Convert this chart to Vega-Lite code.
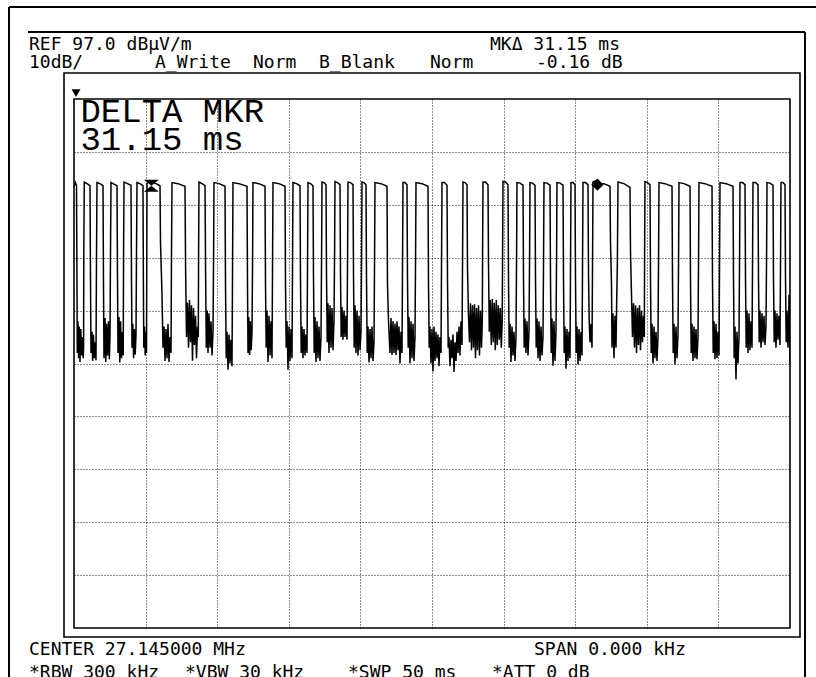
{
"$schema":"https://vega.github.io/schema/vega-lite/v6.json",
"width":716,"height":529,
"autosize":{"type":"none"},
"padding":{"left":74,"top":99,"right":26,"bottom":49},
"background":"white",
"config":{"view":{"stroke":"black","strokeWidth":1.6}},
"datasets":{
"trace":[
{"t":0,"v":80.5},{"t":0.105,"v":81.2},{"t":0.175,"v":80.6},{"t":0.209,"v":62},{"t":0.23,"v":49},{"t":0.279,"v":55},{"t":0.321,"v":48},{"t":0.37,"v":54},{"t":0.419,"v":47.3},{"t":0.475,"v":53.5},{"t":0.531,"v":48.5},{"t":0.594,"v":52},{"t":0.642,"v":48},{"t":0.67,"v":50},{"t":0.684,"v":68},{"t":0.719,"v":81.3},
{"t":0.908,"v":81.0},{"t":1.117,"v":80.6},{"t":1.152,"v":63},{"t":1.187,"v":49},{"t":1.257,"v":53},{"t":1.299,"v":47.5},{"t":1.355,"v":52.5},{"t":1.411,"v":48},{"t":1.466,"v":51},{"t":1.536,"v":47.6},{"t":1.571,"v":67},{"t":1.606,"v":81.2},
{"t":1.816,"v":81.0},{"t":2.025,"v":80.6},{"t":2.06,"v":62},{"t":2.095,"v":48},{"t":2.165,"v":55.6},{"t":2.221,"v":47.3},{"t":2.277,"v":54.5},{"t":2.339,"v":48.5},{"t":2.409,"v":55},{"t":2.465,"v":47.8},{"t":2.514,"v":52},{"t":2.549,"v":68},{"t":2.584,"v":81.2},
{"t":2.793,"v":80.9},{"t":3.003,"v":80.6},{"t":3.038,"v":63},{"t":3.073,"v":49},{"t":3.142,"v":55.8},{"t":3.198,"v":47.2},{"t":3.254,"v":55},{"t":3.317,"v":48},{"t":3.387,"v":53},{"t":3.436,"v":48.5},{"t":3.464,"v":69},{"t":3.492,"v":81.3},
{"t":3.736,"v":81},{"t":3.98,"v":80.7},{"t":4.015,"v":63},{"t":4.05,"v":50},{"t":4.106,"v":54.5},{"t":4.162,"v":48},{"t":4.218,"v":53.5},{"t":4.274,"v":48.7},{"t":4.33,"v":52.5},{"t":4.365,"v":68},{"t":4.399,"v":81.2},
{"t":4.609,"v":81},{"t":4.818,"v":80.6},{"t":4.846,"v":62},{"t":4.874,"v":50},{"t":4.923,"v":54},{"t":4.972,"v":48.5},{"t":5.021,"v":53},{"t":5.063,"v":49},{"t":5.084,"v":68},{"t":5.098,"v":81},
{"t":5.237,"v":81.5},{"t":5.447,"v":81.3},{"t":5.726,"v":81.0},{"t":6.006,"v":80.6},{"t":6.04,"v":70},{"t":6.145,"v":60},{"t":6.215,"v":50},{"t":6.285,"v":54},{"t":6.355,"v":47.5},{"t":6.425,"v":53.5},{"t":6.494,"v":48},{"t":6.564,"v":54.5},{"t":6.634,"v":47.3},{"t":6.704,"v":52},{"t":6.774,"v":49},{"t":6.809,"v":68},{"t":6.844,"v":81.2},
{"t":7.263,"v":81},{"t":7.751,"v":80.5},{"t":7.793,"v":65},{"t":7.856,"v":52},{"t":7.926,"v":58.5},{"t":7.996,"v":50},{"t":8.066,"v":59},{"t":8.135,"v":51},{"t":8.205,"v":58},{"t":8.275,"v":47.5},{"t":8.345,"v":57.5},{"t":8.415,"v":50.5},{"t":8.485,"v":56},{"t":8.554,"v":48},{"t":8.624,"v":54},{"t":8.68,"v":52},{"t":8.701,"v":68},{"t":8.729,"v":81.3},
{"t":8.939,"v":81},{"t":9.148,"v":80.6},{"t":9.19,"v":64},{"t":9.239,"v":50},{"t":9.302,"v":57},{"t":9.358,"v":49},{"t":9.427,"v":56.5},{"t":9.497,"v":50},{"t":9.567,"v":55},{"t":9.637,"v":48.5},{"t":9.707,"v":53},{"t":9.749,"v":68},{"t":9.777,"v":81.2},
{"t":10.126,"v":81},{"t":10.545,"v":80.5},{"t":10.58,"v":62},{"t":10.629,"v":48},{"t":10.684,"v":53},{"t":10.754,"v":45.8},{"t":10.824,"v":52.5},{"t":10.894,"v":47},{"t":10.964,"v":51.5},{"t":11.034,"v":46.5},{"t":11.075,"v":67},{"t":11.103,"v":81.2},
{"t":11.522,"v":81},{"t":12.081,"v":80.5},{"t":12.116,"v":62},{"t":12.151,"v":49},{"t":12.207,"v":55.8},{"t":12.263,"v":48.6},{"t":12.318,"v":55},{"t":12.374,"v":49.5},{"t":12.43,"v":53},{"t":12.472,"v":67},{"t":12.5,"v":81.2},
{"t":12.919,"v":81},{"t":13.338,"v":80.5},{"t":13.373,"v":62},{"t":13.422,"v":50},{"t":13.478,"v":57},{"t":13.547,"v":47.3},{"t":13.617,"v":56},{"t":13.687,"v":48.5},{"t":13.757,"v":55},{"t":13.827,"v":48},{"t":13.869,"v":68},{"t":13.897,"v":81.2},
{"t":14.316,"v":81},{"t":14.735,"v":80.5},{"t":14.77,"v":62},{"t":14.818,"v":50},{"t":14.874,"v":55},{"t":14.944,"v":45.8},{"t":15.014,"v":54},{"t":15.084,"v":47.5},{"t":15.154,"v":53.5},{"t":15.223,"v":48},{"t":15.265,"v":68},{"t":15.293,"v":81.2},
{"t":15.538,"v":81},{"t":15.782,"v":80.6},{"t":15.817,"v":63},{"t":15.866,"v":49},{"t":15.922,"v":54},{"t":15.992,"v":48},{"t":16.061,"v":53.5},{"t":16.131,"v":48.5},{"t":16.201,"v":52.5},{"t":16.271,"v":49},{"t":16.313,"v":68},{"t":16.341,"v":81.2},
{"t":16.515,"v":81},{"t":16.69,"v":80.6},{"t":16.725,"v":63},{"t":16.774,"v":49},{"t":16.83,"v":55.8},{"t":16.899,"v":47.3},{"t":16.969,"v":55},{"t":17.039,"v":48},{"t":17.109,"v":54},{"t":17.179,"v":47.5},{"t":17.249,"v":52},{"t":17.291,"v":68},{"t":17.318,"v":81.3},
{"t":17.458,"v":81.2},{"t":17.598,"v":80.8},{"t":17.633,"v":64},{"t":17.682,"v":51},{"t":17.737,"v":58.4},{"t":17.807,"v":49},{"t":17.877,"v":58},{"t":17.947,"v":50},{"t":18.017,"v":57.5},{"t":18.087,"v":49.5},{"t":18.156,"v":55},{"t":18.198,"v":68},{"t":18.226,"v":81.4},
{"t":18.401,"v":81.2},{"t":18.575,"v":80.8},{"t":18.61,"v":64},{"t":18.659,"v":52},{"t":18.715,"v":57.7},{"t":18.785,"v":51.5},{"t":18.855,"v":57},{"t":18.925,"v":52},{"t":18.994,"v":56},{"t":19.064,"v":51.5},{"t":19.106,"v":68},{"t":19.134,"v":81.3},
{"t":19.309,"v":81.2},{"t":19.483,"v":80.8},{"t":19.518,"v":64},{"t":19.567,"v":50},{"t":19.623,"v":58},{"t":19.693,"v":49},{"t":19.763,"v":57},{"t":19.832,"v":48.5},{"t":19.902,"v":56},{"t":19.972,"v":49.5},{"t":20.042,"v":53},{"t":20.084,"v":68},{"t":20.112,"v":81.3},
{"t":20.251,"v":81.2},{"t":20.391,"v":80.8},{"t":20.426,"v":63},{"t":20.475,"v":49},{"t":20.531,"v":54},{"t":20.601,"v":47.2},{"t":20.67,"v":53.5},{"t":20.74,"v":48},{"t":20.81,"v":54},{"t":20.88,"v":47.5},{"t":20.95,"v":51},{"t":20.992,"v":68},{"t":21.019,"v":81.2},
{"t":21.438,"v":81},{"t":21.858,"v":80.5},{"t":21.892,"v":62},{"t":21.962,"v":55},{"t":22.067,"v":49},{"t":22.137,"v":55.6},{"t":22.207,"v":48.6},{"t":22.277,"v":55},{"t":22.346,"v":49},{"t":22.416,"v":54.5},{"t":22.486,"v":48.6},{"t":22.556,"v":55},{"t":22.626,"v":49.5},{"t":22.696,"v":54},{"t":22.765,"v":47},{"t":22.835,"v":53},{"t":22.905,"v":49},{"t":22.947,"v":68},{"t":22.975,"v":81.2},
{"t":23.115,"v":81.2},{"t":23.254,"v":80.8},{"t":23.289,"v":63},{"t":23.338,"v":50},{"t":23.394,"v":55.8},{"t":23.464,"v":47},{"t":23.534,"v":55},{"t":23.603,"v":48},{"t":23.673,"v":54.5},{"t":23.743,"v":47.5},{"t":23.813,"v":52},{"t":23.855,"v":68},{"t":23.883,"v":81.2},
{"t":24.302,"v":81},{"t":24.721,"v":80.5},{"t":24.756,"v":62},{"t":24.805,"v":50},{"t":24.86,"v":54},{"t":24.93,"v":47},{"t":25.0,"v":53.5},{"t":25.07,"v":45.5},{"t":25.14,"v":54},{"t":25.209,"v":47.5},{"t":25.279,"v":53},{"t":25.349,"v":48},{"t":25.419,"v":52.5},{"t":25.489,"v":46.5},{"t":25.559,"v":52},{"t":25.628,"v":49},{"t":25.67,"v":68},{"t":25.698,"v":81.2},
{"t":25.873,"v":81.2},{"t":26.047,"v":80.7},{"t":26.082,"v":63},{"t":26.131,"v":50},{"t":26.187,"v":52},{"t":26.257,"v":46.5},{"t":26.327,"v":51.5},{"t":26.397,"v":48},{"t":26.466,"v":52.5},{"t":26.536,"v":45.4},{"t":26.606,"v":51},{"t":26.676,"v":47.5},{"t":26.746,"v":53},{"t":26.816,"v":49},{"t":26.885,"v":54},{"t":26.955,"v":48.5},{"t":27.025,"v":55},{"t":27.095,"v":50.5},{"t":27.137,"v":68},{"t":27.165,"v":81.3},
{"t":27.304,"v":81.2},{"t":27.444,"v":80.8},{"t":27.479,"v":65},{"t":27.549,"v":56},{"t":27.619,"v":51},{"t":27.688,"v":58.4},{"t":27.758,"v":49.5},{"t":27.828,"v":58},{"t":27.898,"v":50},{"t":27.968,"v":58.2},{"t":28.038,"v":48},{"t":28.107,"v":57.5},{"t":28.177,"v":49.5},{"t":28.247,"v":58},{"t":28.317,"v":48.5},{"t":28.387,"v":57},{"t":28.457,"v":50},{"t":28.512,"v":55},{"t":28.533,"v":68},{"t":28.561,"v":81.3},
{"t":28.736,"v":81.3},{"t":28.911,"v":80.8},{"t":28.945,"v":66},{"t":29.001,"v":53},{"t":29.071,"v":59},{"t":29.141,"v":50.5},{"t":29.211,"v":59.2},{"t":29.281,"v":51},{"t":29.35,"v":58.5},{"t":29.42,"v":49.5},{"t":29.49,"v":59},{"t":29.56,"v":50.5},{"t":29.63,"v":58},{"t":29.7,"v":51.5},{"t":29.769,"v":57.5},{"t":29.839,"v":50},{"t":29.902,"v":55},{"t":29.93,"v":68},{"t":29.958,"v":81.4},
{"t":30.133,"v":81.3},{"t":30.307,"v":80.8},{"t":30.342,"v":63},{"t":30.391,"v":50},{"t":30.447,"v":54.5},{"t":30.517,"v":47.3},{"t":30.587,"v":54},{"t":30.656,"v":48.5},{"t":30.726,"v":53},{"t":30.796,"v":47.5},{"t":30.866,"v":52},{"t":30.908,"v":68},{"t":30.936,"v":81.2},
{"t":31.145,"v":81.1},{"t":31.355,"v":80.7},{"t":31.39,"v":63},{"t":31.439,"v":50},{"t":31.494,"v":55.5},{"t":31.564,"v":49},{"t":31.634,"v":55},{"t":31.704,"v":48.5},{"t":31.774,"v":53},{"t":31.816,"v":68},{"t":31.844,"v":81.2},
{"t":32.018,"v":81.1},{"t":32.193,"v":80.7},{"t":32.228,"v":63},{"t":32.277,"v":50},{"t":32.332,"v":55.5},{"t":32.402,"v":48},{"t":32.472,"v":55},{"t":32.542,"v":47.5},{"t":32.612,"v":54},{"t":32.682,"v":48.5},{"t":32.751,"v":52},{"t":32.793,"v":68},{"t":32.821,"v":81.2},
{"t":33.031,"v":81.1},{"t":33.24,"v":80.7},{"t":33.275,"v":63},{"t":33.324,"v":49},{"t":33.38,"v":55.5},{"t":33.45,"v":46.6},{"t":33.52,"v":55},{"t":33.589,"v":47.5},{"t":33.659,"v":53},{"t":33.701,"v":68},{"t":33.729,"v":81.2},
{"t":33.939,"v":81.1},{"t":34.148,"v":80.7},{"t":34.183,"v":63},{"t":34.232,"v":49},{"t":34.288,"v":54},{"t":34.358,"v":46},{"t":34.427,"v":53.5},{"t":34.497,"v":47.5},{"t":34.567,"v":53},{"t":34.637,"v":48},{"t":34.679,"v":68},{"t":34.707,"v":81.2},
{"t":34.846,"v":81.2},{"t":34.986,"v":80.8},{"t":35.021,"v":63},{"t":35.07,"v":49},{"t":35.126,"v":54},{"t":35.196,"v":46.8},{"t":35.265,"v":53.5},{"t":35.335,"v":47.5},{"t":35.405,"v":53},{"t":35.475,"v":48.5},{"t":35.517,"v":68},{"t":35.545,"v":81.2},
{"t":35.719,"v":81.2},{"t":35.894,"v":80.8},{"t":35.929,"v":64},{"t":35.978,"v":55},{"t":36.034,"v":51},{"t":36.103,"v":54.5},{"t":36.173,"v":50},{"t":36.215,"v":68},{"t":36.243,"v":81.3},
{"t":36.383,"v":81.5},{"t":36.522,"v":81.4},{"t":36.732,"v":81.0},{"t":37.011,"v":81.0},{"t":37.43,"v":80.5},{"t":37.465,"v":70},{"t":37.535,"v":62},{"t":37.57,"v":50},{"t":37.64,"v":56.5},{"t":37.709,"v":48},{"t":37.779,"v":56},{"t":37.849,"v":50},{"t":37.905,"v":60},{"t":37.94,"v":65},{"t":37.961,"v":72},{"t":37.989,"v":81.3},
{"t":38.408,"v":81},{"t":38.827,"v":80.3},{"t":38.862,"v":68},{"t":38.932,"v":60},{"t":39.001,"v":52},{"t":39.071,"v":58.4},{"t":39.141,"v":50},{"t":39.211,"v":58},{"t":39.281,"v":49},{"t":39.351,"v":57.5},{"t":39.42,"v":50.5},{"t":39.49,"v":58},{"t":39.56,"v":49.5},{"t":39.63,"v":57},{"t":39.7,"v":51},{"t":39.77,"v":56},{"t":39.826,"v":52},{"t":39.847,"v":68},{"t":39.874,"v":81.4},
{"t":40.049,"v":81.2},{"t":40.223,"v":80.8},{"t":40.258,"v":63},{"t":40.307,"v":49},{"t":40.363,"v":54.5},{"t":40.433,"v":47},{"t":40.503,"v":54},{"t":40.573,"v":48},{"t":40.642,"v":53},{"t":40.712,"v":47.5},{"t":40.782,"v":52},{"t":40.824,"v":68},{"t":40.852,"v":81.2},
{"t":41.271,"v":81},{"t":41.76,"v":80.5},{"t":41.795,"v":63},{"t":41.844,"v":49},{"t":41.899,"v":54.5},{"t":41.969,"v":46.8},{"t":42.039,"v":54},{"t":42.109,"v":48},{"t":42.179,"v":52.5},{"t":42.221,"v":68},{"t":42.249,"v":81.2},
{"t":42.598,"v":81},{"t":43.017,"v":80.5},{"t":43.052,"v":63},{"t":43.101,"v":49},{"t":43.156,"v":54.5},{"t":43.226,"v":47.5},{"t":43.296,"v":54},{"t":43.366,"v":48},{"t":43.436,"v":53.5},{"t":43.506,"v":47.8},{"t":43.575,"v":52},{"t":43.617,"v":68},{"t":43.645,"v":81.2},
{"t":44.064,"v":81},{"t":44.553,"v":80.5},{"t":44.588,"v":63},{"t":44.637,"v":49},{"t":44.693,"v":55},{"t":44.763,"v":47.8},{"t":44.832,"v":54.5},{"t":44.902,"v":48},{"t":44.972,"v":53},{"t":45.042,"v":48.5},{"t":45.084,"v":68},{"t":45.112,"v":81.2},
{"t":45.531,"v":81},{"t":46.02,"v":80.5},{"t":46.055,"v":63},{"t":46.103,"v":48},{"t":46.159,"v":54},{"t":46.229,"v":44},{"t":46.299,"v":53},{"t":46.369,"v":47},{"t":46.439,"v":52},{"t":46.48,"v":68},{"t":46.508,"v":81.2},
{"t":46.683,"v":81.2},{"t":46.858,"v":80.8},{"t":46.893,"v":63},{"t":46.941,"v":50},{"t":46.997,"v":57},{"t":47.067,"v":49},{"t":47.137,"v":56.5},{"t":47.207,"v":49.5},{"t":47.277,"v":55},{"t":47.346,"v":50},{"t":47.388,"v":68},{"t":47.416,"v":81.2},
{"t":47.591,"v":81.2},{"t":47.765,"v":80.8},{"t":47.8,"v":63},{"t":47.849,"v":51},{"t":47.905,"v":57},{"t":47.975,"v":50},{"t":48.045,"v":56.5},{"t":48.115,"v":51},{"t":48.184,"v":56},{"t":48.254,"v":50.5},{"t":48.324,"v":54},{"t":48.366,"v":68},{"t":48.394,"v":81.2},
{"t":48.603,"v":81.1},{"t":48.813,"v":80.7},{"t":48.848,"v":63},{"t":48.897,"v":51},{"t":48.953,"v":57},{"t":49.022,"v":50},{"t":49.092,"v":56.5},{"t":49.162,"v":51.5},{"t":49.232,"v":56},{"t":49.302,"v":50.5},{"t":49.344,"v":68},{"t":49.372,"v":81.2},
{"t":49.511,"v":81.2},{"t":49.651,"v":80.8},{"t":49.686,"v":63},{"t":49.735,"v":51},{"t":49.791,"v":57},{"t":49.86,"v":50},{"t":49.902,"v":55},{"t":49.93,"v":60},{"t":49.951,"v":56},{"t":50.0,"v":47}
],
"hdr":[
{"t":-3.142,"v":106.26,"text":"REF 97.0 dBµV/m"},
{"t":29.05,"v":106.26,"text":"MKΔ 31.15 ms"},
{"t":-3.142,"v":102.77,"text":"10dB/"},
{"t":5.656,"v":102.77,"text":"A_Write"},
{"t":12.5,"v":102.77,"text":"Norm"},
{"t":17.109,"v":102.77,"text":"B_Blank"},
{"t":24.86,"v":102.77,"text":"Norm"},
{"t":32.262,"v":102.77,"text":"-0.16 dB"},
{"t":-3.142,"v":-8.1,"text":"CENTER 27.145000 MHz"},
{"t":32.123,"v":-8.1,"text":"SPAN 0.000 kHz"},
{"t":-3.142,"v":-12.45,"text":"*RBW 300 kHz"},
{"t":7.751,"v":-12.45,"text":"*VBW 30 kHz"},
{"t":19.134,"v":-12.45,"text":"*SWP 50 ms"},
{"t":29.19,"v":-12.45,"text":"*ATT 0 dB"}
],
"big":[
{"t":0.45,"v":92.65,"text":"DELTA MKR"},
{"t":0.45,"v":87.36,"text":"31.15 ms"}
],
"lines":[
{"x1":-4.539,"x2":52.5,"y1":114.39,"y2":114.39},
{"x1":-4.539,"x2":-4.539,"y1":114.39,"y2":-14},
{"x1":-3.212,"x2":51.047,"y1":109.67,"y2":109.67},
{"x1":51.047,"x2":51.047,"y1":109.67,"y2":-14}
],
"frame":[{"x1":-0.698,"x2":50.698,"y1":101.91,"y2":-4.7}]
},
"layer":[
{"data":{"name":"trace"},"mark":{"type":"line","color":"black","strokeWidth":1.5,"clip":true},
 "encoding":{
  "x":{"field":"t","type":"quantitative","scale":{"domain":[0,50],"nice":false,"zero":false},
       "axis":{"values":[5,10,15,20,25,30,35,40,45],"grid":true,"gridColor":"black","gridDash":[1,2],"gridWidth":1,"gridOpacity":0.9,"labels":false,"ticks":false,"domain":false,"title":null}},
  "y":{"field":"v","type":"quantitative","scale":{"domain":[-3,97],"nice":false,"zero":false},
       "axis":{"values":[7,17,27,37,47,57,67,77,87],"grid":true,"gridColor":"black","gridDash":[1,2],"gridWidth":1,"gridOpacity":0.9,"labels":false,"ticks":false,"domain":false,"title":null}}
 }},
{"data":{"name":"lines"},"mark":{"type":"rule","color":"black","strokeWidth":2},
 "encoding":{"x":{"field":"x1","type":"quantitative"},"x2":{"field":"x2"},"y":{"field":"y1","type":"quantitative"},"y2":{"field":"y2"}}},
{"data":{"name":"frame"},"mark":{"type":"rect","fill":null,"fillOpacity":0,"stroke":"black","strokeWidth":1.6},
 "encoding":{"x":{"field":"x1","type":"quantitative"},"x2":{"field":"x2"},"y":{"field":"y1","type":"quantitative"},"y2":{"field":"y2"}}},
{"data":{"name":"hdr"},"mark":{"type":"text","font":"DejaVu Sans Mono","fontSize":18,"align":"left","baseline":"alphabetic","color":"black"},
 "encoding":{"x":{"field":"t","type":"quantitative"},"y":{"field":"v","type":"quantitative"},"text":{"field":"text"}}},
{"data":{"name":"big"},"mark":{"type":"text","font":"Liberation Mono","fontSize":34,"align":"left","baseline":"alphabetic","color":"black"},
 "encoding":{"x":{"field":"t","type":"quantitative"},"y":{"field":"v","type":"quantitative"},"text":{"field":"text"}}},
{"data":{"values":[{"t":5.40,"v":80.6}]},"mark":{"type":"point","shape":"M-1,-0.8L1,-0.8L0,0L1,0.8L-1,0.8L0,0Z","size":220,"filled":true,"color":"black","opacity":1},
 "encoding":{"x":{"field":"t","type":"quantitative"},"y":{"field":"v","type":"quantitative"}}},
{"data":{"values":[{"t":36.55,"v":80.8}]},"mark":{"type":"point","shape":"diamond","size":150,"filled":true,"color":"black","opacity":1},
 "encoding":{"x":{"field":"t","type":"quantitative"},"y":{"field":"v","type":"quantitative"}}},
{"data":{"values":[{"t":0.14,"v":98.1}]},"mark":{"type":"point","shape":"triangle-down","size":80,"filled":true,"color":"black","opacity":1},
 "encoding":{"x":{"field":"t","type":"quantitative"},"y":{"field":"v","type":"quantitative"}}}
]
}
